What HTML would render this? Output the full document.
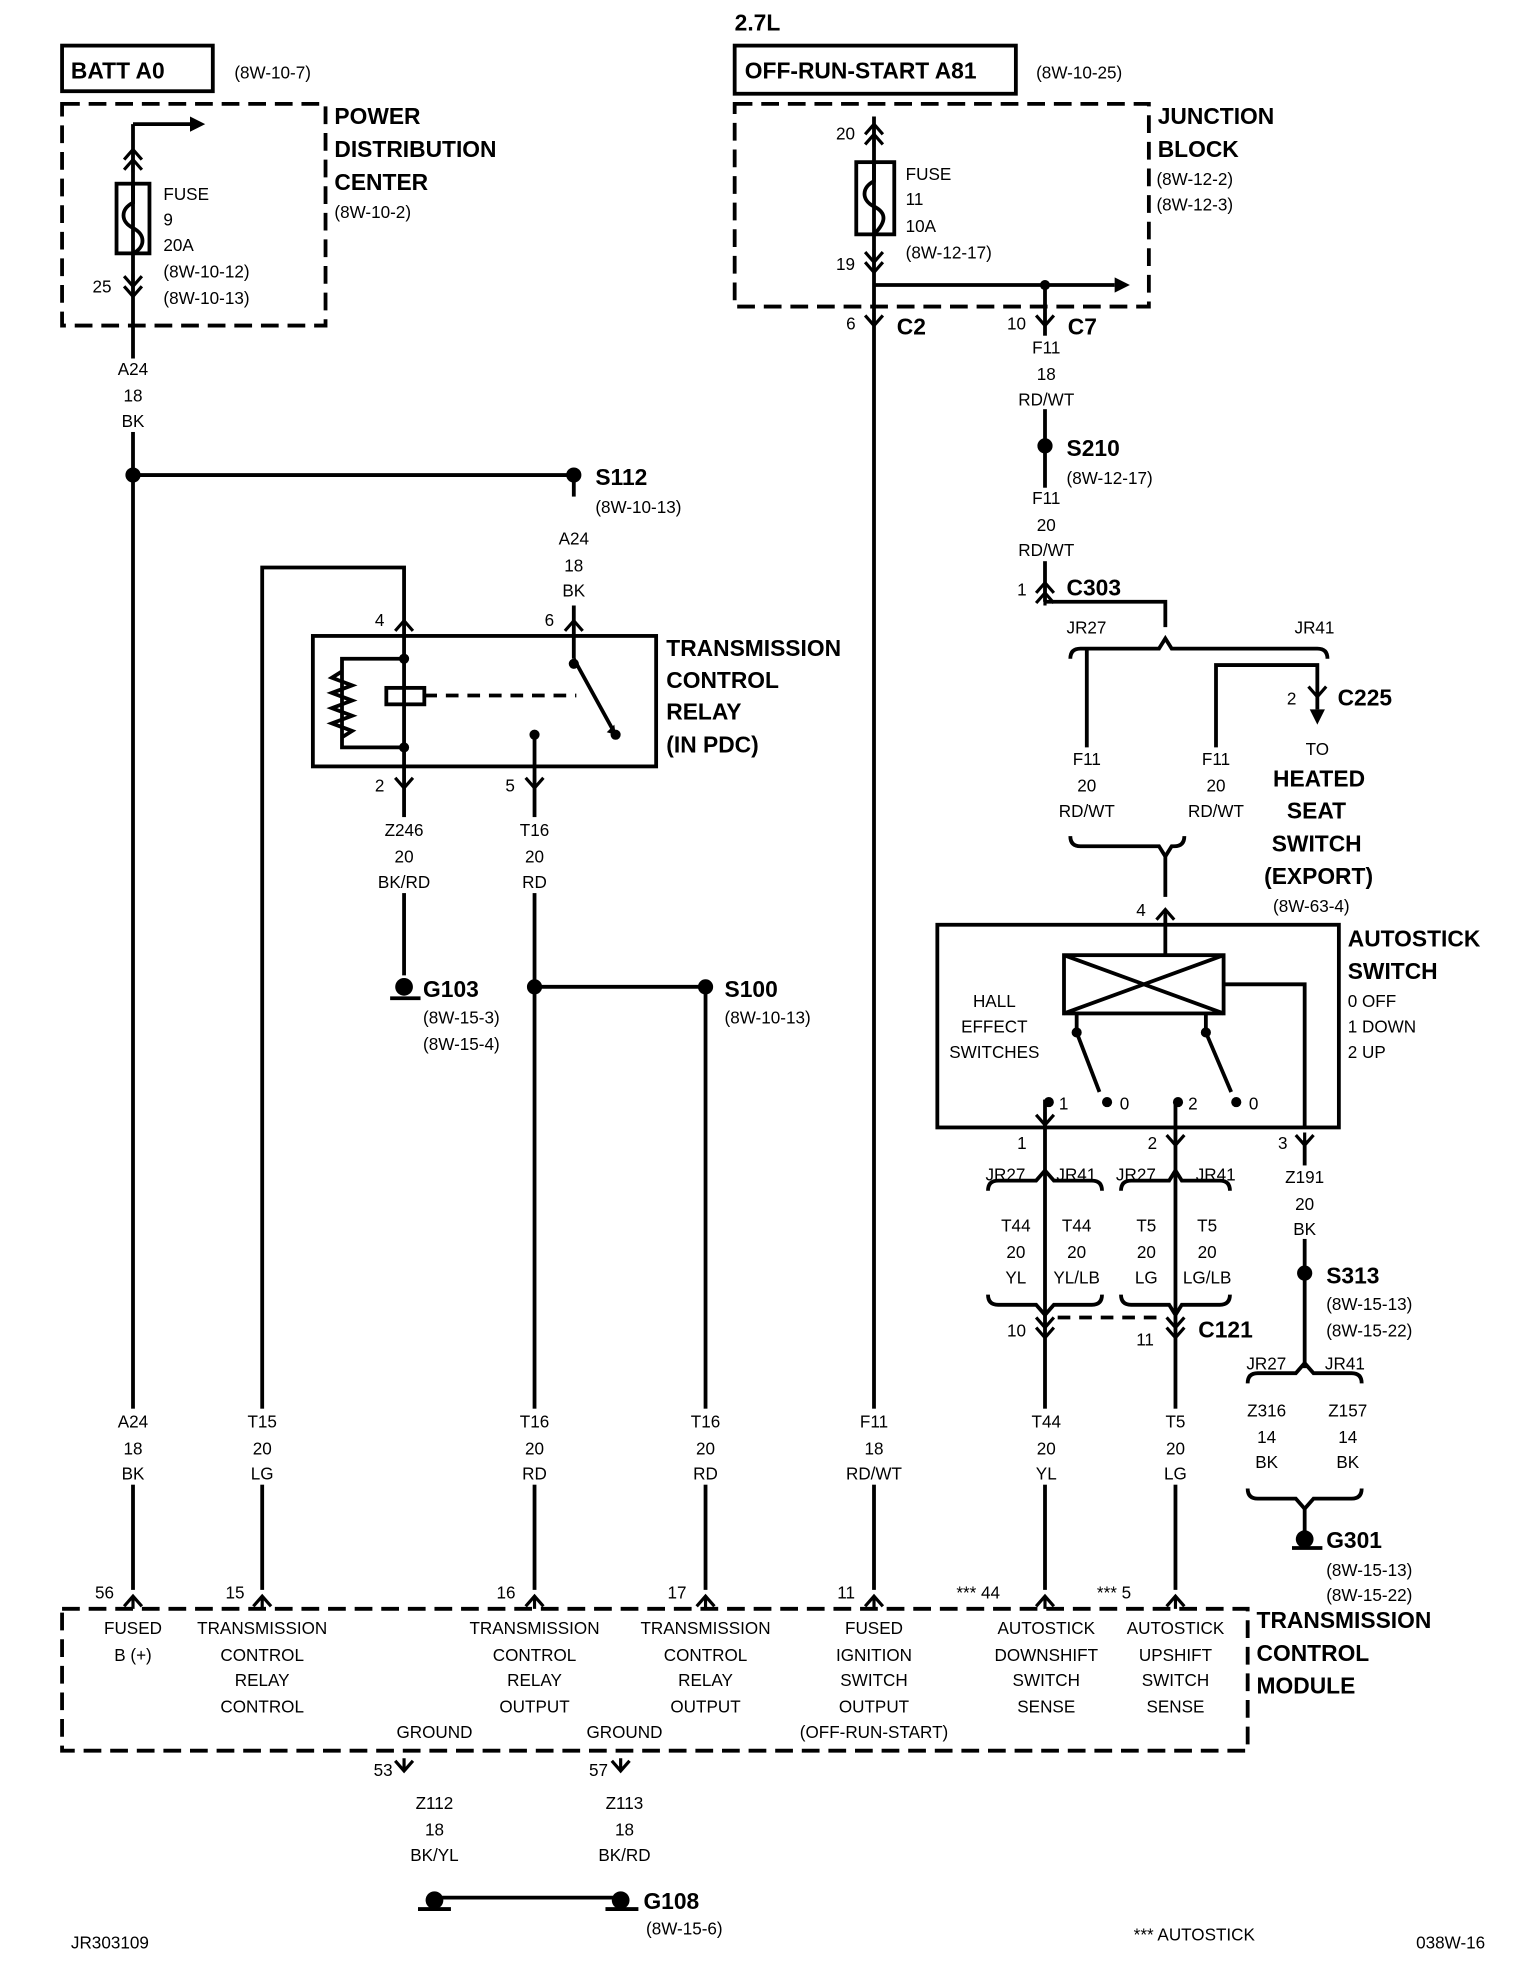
<!DOCTYPE html>
<html><head><meta charset="utf-8"><style>
html,body{margin:0;padding:0;background:#fff}
svg{display:block}
text{font-family:"Liberation Sans",Arial,sans-serif;fill:#000}
.b{font-weight:bold;font-size:18px}
.s{font-size:13.5px}
</style></head><body>
<svg width="1520" height="1980" viewBox="0 0 1200 1563" preserveAspectRatio="none" xmlns="http://www.w3.org/2000/svg">
<defs>
<g id="cd"><path d="M-7,-6 L0,2 L7,-6 M0,2 L0,-8" stroke="#000" stroke-width="2.5" fill="none"/></g>
<g id="cu"><path d="M-7,6 L0,-2 L7,6 M0,-2 L0,8" stroke="#000" stroke-width="2.5" fill="none"/></g>
</defs>
<g stroke="#000" stroke-width="3" fill="none">
<rect x="49" y="36" width="119" height="36"/>
<rect x="580" y="36" width="222" height="38"/>
<g stroke-dasharray="14,7">
<rect x="49" y="82" width="208" height="175"/>
<rect x="580" y="82" width="327" height="160"/>
<rect x="49" y="1270" width="936" height="112"/>
</g>
<line x1="105" y1="98" x2="105" y2="1255"/>
<line x1="105" y1="98" x2="150" y2="98"/>
<rect x="92" y="145" width="26" height="55"/>
<path d="M105,145 v15 c-10,5 -10,15 0,20 c10,5 10,15 0,20"/>
<line x1="690" y1="92" x2="690" y2="1255"/>
<rect x="676" y="128" width="30" height="57"/>
<path d="M690,128 v15 c-10,5 -10,15 0,20 c10,5 10,12 0,22"/>
<line x1="690" y1="225" x2="880" y2="225"/>
<line x1="825" y1="225" x2="825" y2="475"/>
<line x1="825" y1="868" x2="825" y2="1255"/>
<line x1="105" y1="375" x2="453" y2="375"/>
<line x1="453" y1="375" x2="453" y2="392"/>
<line x1="453" y1="478" x2="453" y2="520"/>
<polyline points="207,1255 207,448 319,448 319,495"/>
<rect x="247" y="502" width="271" height="103"/>
<line x1="319" y1="495" x2="319" y2="620"/>
<polyline points="319,520 270,520 270,590 319,590"/>
<path d="M270,530 l-8,5 l16,6 l-16,6 l16,6 l-16,6 l16,6 l-16,6 l16,6 l-8,5"/>
<rect x="305" y="543" width="30" height="13"/>
<line x1="335" y1="549" x2="455" y2="549" stroke-dasharray="10,7"/>
<line x1="453" y1="520" x2="486" y2="580"/>
<line x1="422" y1="580" x2="422" y2="1255"/>
<line x1="319" y1="620" x2="319" y2="770"/>
<line x1="422" y1="779" x2="557" y2="779"/>
<line x1="557" y1="779" x2="557" y2="1255"/>
<path d="M308,788 h24"/>
<polyline points="825,475 920,475 920,495"/>
<path d="M845,520 q0,-8 8,-8 h62 l5,-8 l5,8 h115 q8,0 8,8"/>
<line x1="858" y1="512" x2="858" y2="590"/>
<polyline points="960,590 960,525 1040,525 1040,560"/>
<path d="M845,660 q0,8 8,8 h62 l5,8 l5,-8 h2 q8,0 8,-8"/>
<line x1="920" y1="676" x2="920" y2="708"/>
<line x1="920" y1="722" x2="920" y2="754"/>
<rect x="740" y="730" width="317" height="160"/>
<rect x="840" y="754" width="126" height="46"/>
<line x1="840" y1="754" x2="966" y2="800"/><line x1="966" y1="754" x2="840" y2="800"/>
<polyline points="966,777 1030,777 1030,890"/>
<line x1="850" y1="800" x2="850" y2="815"/><line x1="850" y1="815" x2="868" y2="862"/>
<line x1="952" y1="800" x2="952" y2="815"/><line x1="952" y1="815" x2="972" y2="862"/>
<line x1="928" y1="868" x2="928" y2="1255"/>
<line x1="1030" y1="900" x2="1030" y2="1080"/>
<path d="M780,940 q0,-8 8,-8 h30 l7,-8 l7,8 h30 q8,0 8,8"/>
<path d="M885,940 q0,-8 8,-8 h30 l5,-8 l5,8 h30 q8,0 8,8"/>
<path d="M780,1022 q0,8 8,8 h30 l7,8 l7,-8 h30 q8,0 8,-8"/>
<path d="M885,1022 q0,8 8,8 h30 l5,8 l5,-8 h30 q8,0 8,-8"/>
<line x1="835" y1="1040" x2="920" y2="1040" stroke-dasharray="10,7"/>
<path d="M985,1092 q0,-8 8,-8 h30 l7,-8 l7,8 h30 q8,0 8,8"/>
<path d="M985,1175 q0,8 8,8 h30 l7,8 l7,-8 h30 q8,0 8,-8"/>
<line x1="1030" y1="1190" x2="1030" y2="1210"/>
<path d="M1020,1222 h24"/>
<line x1="343" y1="1498" x2="490" y2="1498"/>
<path d="M330,1507 h26 M478,1507 h26"/>
</g>
<g fill="#fff">
<rect x="85" y="283" width="40" height="58"/><rect x="85" y="1112" width="40" height="60"/>
<rect x="800" y="265" width="52" height="58"/><rect x="800" y="385" width="52" height="58"/>
<rect x="800" y="1112" width="52" height="60"/>
<rect x="293" y="645" width="52" height="60"/><rect x="400" y="645" width="44" height="60"/>
<rect x="187" y="1112" width="40" height="60"/><rect x="400" y="1112" width="44" height="60"/>
<rect x="535" y="1112" width="44" height="60"/><rect x="664" y="1112" width="52" height="60"/>
<rect x="908" y="1112" width="40" height="60"/><rect x="1010" y="920" width="40" height="58"/>
</g>
<path d="M150,92 L162,98 L150,104Z"/><path d="M880,219 L892,225 L880,231Z"/>
<path d="M1034,560 L1046,560 L1040,572Z"/><path d="M486,580 l-7,-2 l6,-6Z"/>
<g>
<circle cx="105" cy="375" r="6"/><circle cx="453" cy="375" r="6"/><circle cx="825" cy="225" r="4"/>
<circle cx="825" cy="352" r="6"/><circle cx="422" cy="779" r="6"/><circle cx="557" cy="779" r="6"/>
<circle cx="319" cy="779" r="7"/><circle cx="1030" cy="1005" r="6"/><circle cx="1030" cy="1215" r="7"/>
<circle cx="343" cy="1500" r="7"/><circle cx="490" cy="1500" r="7"/>
<circle cx="319" cy="520" r="4"/><circle cx="319" cy="590" r="4"/><circle cx="453" cy="524" r="4"/><circle cx="422" cy="580" r="4"/>
<circle cx="486" cy="580" r="4"/>
<circle cx="850" cy="815" r="4"/><circle cx="952" cy="815" r="4"/>
<circle cx="828" cy="870" r="4"/><circle cx="874" cy="870" r="4"/><circle cx="930" cy="870" r="4"/><circle cx="976" cy="870" r="4"/>
</g>
<use href="#cu" x="105" y="120"/><use href="#cu" x="105" y="128"/>
<use href="#cd" x="105" y="224"/><use href="#cd" x="105" y="232"/>
<use href="#cu" x="690" y="100"/><use href="#cu" x="690" y="108"/>
<use href="#cd" x="690" y="205"/><use href="#cd" x="690" y="213"/>
<use href="#cd" x="690" y="255"/><use href="#cd" x="825" y="255"/>
<use href="#cu" x="825" y="462"/><use href="#cu" x="825" y="470"/>
<use href="#cd" x="1040" y="548"/>
<use href="#cu" x="319" y="492"/><use href="#cu" x="453" y="492"/>
<use href="#cd" x="319" y="620"/><use href="#cd" x="422" y="620"/>
<use href="#cu" x="920" y="720"/>
<use href="#cd" x="825" y="886"/><use href="#cd" x="928" y="902"/><use href="#cd" x="1030" y="902"/>
<use href="#cd" x="825" y="1046"/><use href="#cd" x="825" y="1054"/>
<use href="#cd" x="928" y="1046"/><use href="#cd" x="928" y="1054"/>
<use href="#cu" x="105" y="1262"/><use href="#cu" x="207" y="1262"/><use href="#cu" x="422" y="1262"/>
<use href="#cu" x="557" y="1262"/><use href="#cu" x="690" y="1262"/><use href="#cu" x="825" y="1262"/><use href="#cu" x="928" y="1262"/>
<use href="#cd" x="319" y="1396"/><use href="#cd" x="490" y="1396"/>
<g class="b">
<text x="56" y="62">BATT A0</text>
<text x="580" y="24">2.7L</text>
<text x="588" y="62">OFF-RUN-START A81</text>
<text x="264" y="98">POWER</text><text x="264" y="124">DISTRIBUTION</text><text x="264" y="150">CENTER</text>
<text x="914" y="98">JUNCTION</text><text x="914" y="124">BLOCK</text>
<text x="708" y="264">C2</text><text x="843" y="264">C7</text>
<text x="842" y="360">S210</text><text x="470" y="383">S112</text><text x="842" y="470">C303</text>
<text x="1056" y="557">C225</text>
<text x="526" y="518">TRANSMISSION</text><text x="526" y="543">CONTROL</text><text x="526" y="568">RELAY</text><text x="526" y="594">(IN PDC)</text>
<text x="1005" y="621">HEATED</text><text x="1016" y="646">SEAT</text><text x="1004" y="672">SWITCH</text><text x="998" y="698">(EXPORT)</text>
<text x="1064" y="747">AUTOSTICK</text><text x="1064" y="773">SWITCH</text>
<text x="334" y="787">G103</text><text x="572" y="787">S100</text>
<text x="1047" y="1013">S313</text><text x="946" y="1056">C121</text><text x="1047" y="1222">G301</text>
<text x="992" y="1285">TRANSMISSION</text><text x="992" y="1311">CONTROL</text><text x="992" y="1337">MODULE</text>
<text x="508" y="1507">G108</text>
</g>
<g class="s">
<text x="185" y="62">(8W-10-7)</text><text x="818" y="62">(8W-10-25)</text>
<text x="129" y="158">FUSE</text><text x="129" y="178">9</text><text x="129" y="198">20A</text><text x="129" y="219">(8W-10-12)</text><text x="129" y="240">(8W-10-13)</text>
<text x="264" y="172">(8W-10-2)</text><text x="73" y="231">25</text>
<text x="715" y="142">FUSE</text><text x="715" y="162">11</text><text x="715" y="183">10A</text><text x="715" y="204">(8W-12-17)</text>
<text x="660" y="110">20</text><text x="660" y="213">19</text>
<text x="913" y="146">(8W-12-2)</text><text x="913" y="166">(8W-12-3)</text>
<text x="668" y="260">6</text><text x="795" y="260">10</text>
<g text-anchor="middle">
<text x="105" y="296">A24</text><text x="105" y="317">18</text><text x="105" y="337">BK</text>
<text x="826" y="279">F11</text><text x="826" y="300">18</text><text x="826" y="320">RD/WT</text>
<text x="826" y="398">F11</text><text x="826" y="419">20</text><text x="826" y="439">RD/WT</text>
<text x="453" y="430">A24</text><text x="453" y="451">18</text><text x="453" y="471">BK</text>
<text x="858" y="604">F11</text><text x="858" y="625">20</text><text x="858" y="645">RD/WT</text>
<text x="960" y="604">F11</text><text x="960" y="625">20</text><text x="960" y="645">RD/WT</text>
<text x="319" y="660">Z246</text><text x="319" y="681">20</text><text x="319" y="701">BK/RD</text>
<text x="422" y="660">T16</text><text x="422" y="681">20</text><text x="422" y="701">RD</text>
<text x="1040" y="596">TO</text>
<text x="785" y="795">HALL</text><text x="785" y="815">EFFECT</text><text x="785" y="835">SWITCHES</text>
<text x="1030" y="934">Z191</text><text x="1030" y="955">20</text><text x="1030" y="975">BK</text>
<text x="802" y="972">T44</text><text x="802" y="993">20</text><text x="802" y="1013">YL</text>
<text x="850" y="972">T44</text><text x="850" y="993">20</text><text x="850" y="1013">YL/LB</text>
<text x="905" y="972">T5</text><text x="905" y="993">20</text><text x="905" y="1013">LG</text>
<text x="953" y="972">T5</text><text x="953" y="993">20</text><text x="953" y="1013">LG/LB</text>
<text x="1000" y="1118">Z316</text><text x="1000" y="1139">14</text><text x="1000" y="1159">BK</text>
<text x="1064" y="1118">Z157</text><text x="1064" y="1139">14</text><text x="1064" y="1159">BK</text>
<text x="105" y="1127">A24</text><text x="105" y="1148">18</text><text x="105" y="1168">BK</text>
<text x="207" y="1127">T15</text><text x="207" y="1148">20</text><text x="207" y="1168">LG</text>
<text x="422" y="1127">T16</text><text x="422" y="1148">20</text><text x="422" y="1168">RD</text>
<text x="557" y="1127">T16</text><text x="557" y="1148">20</text><text x="557" y="1168">RD</text>
<text x="690" y="1127">F11</text><text x="690" y="1148">18</text><text x="690" y="1168">RD/WT</text>
<text x="826" y="1127">T44</text><text x="826" y="1148">20</text><text x="826" y="1168">YL</text>
<text x="928" y="1127">T5</text><text x="928" y="1148">20</text><text x="928" y="1168">LG</text>
<text x="105" y="1290">FUSED</text><text x="105" y="1311">B (+)</text>
<text x="207" y="1290">TRANSMISSION</text><text x="207" y="1311">CONTROL</text><text x="207" y="1331">RELAY</text><text x="207" y="1352">CONTROL</text>
<text x="422" y="1290">TRANSMISSION</text><text x="422" y="1311">CONTROL</text><text x="422" y="1331">RELAY</text><text x="422" y="1352">OUTPUT</text>
<text x="557" y="1290">TRANSMISSION</text><text x="557" y="1311">CONTROL</text><text x="557" y="1331">RELAY</text><text x="557" y="1352">OUTPUT</text>
<text x="690" y="1290">FUSED</text><text x="690" y="1311">IGNITION</text><text x="690" y="1331">SWITCH</text><text x="690" y="1352">OUTPUT</text><text x="690" y="1372">(OFF-RUN-START)</text>
<text x="826" y="1290">AUTOSTICK</text><text x="826" y="1311">DOWNSHIFT</text><text x="826" y="1331">SWITCH</text><text x="826" y="1352">SENSE</text>
<text x="928" y="1290">AUTOSTICK</text><text x="928" y="1311">UPSHIFT</text><text x="928" y="1331">SWITCH</text><text x="928" y="1352">SENSE</text>
<text x="343" y="1372">GROUND</text><text x="493" y="1372">GROUND</text>
<text x="343" y="1428">Z112</text><text x="343" y="1449">18</text><text x="343" y="1469">BK/YL</text>
<text x="493" y="1428">Z113</text><text x="493" y="1449">18</text><text x="493" y="1469">BK/RD</text>
</g>
<text x="842" y="382">(8W-12-17)</text><text x="470" y="405">(8W-10-13)</text>
<text x="803" y="470">1</text><text x="842" y="500">JR27</text><text x="1022" y="500">JR41</text>
<text x="1016" y="556">2</text>
<text x="296" y="494">4</text><text x="430" y="494">6</text>
<text x="296" y="625">2</text><text x="399" y="625">5</text>
<text x="1005" y="720">(8W-63-4)</text><text x="897" y="723">4</text>
<text x="1064" y="795">0 OFF</text><text x="1064" y="815">1 DOWN</text><text x="1064" y="835">2 UP</text>
<text x="836" y="876">1</text><text x="884" y="876">0</text><text x="938" y="876">2</text><text x="986" y="876">0</text>
<text x="803" y="907">1</text><text x="906" y="907">2</text><text x="1009" y="907">3</text>
<text x="778" y="932">JR27</text><text x="834" y="932">JR41</text><text x="881" y="932">JR27</text><text x="944" y="932">JR41</text>
<text x="334" y="808">(8W-15-3)</text><text x="334" y="829">(8W-15-4)</text><text x="572" y="808">(8W-10-13)</text>
<text x="1047" y="1034">(8W-15-13)</text><text x="1047" y="1055">(8W-15-22)</text>
<text x="795" y="1055">10</text><text x="897" y="1062">11</text>
<text x="984" y="1081">JR27</text><text x="1046" y="1081">JR41</text>
<text x="1047" y="1244">(8W-15-13)</text><text x="1047" y="1264">(8W-15-22)</text>
<text x="75" y="1262">56</text><text x="178" y="1262">15</text><text x="392" y="1262">16</text><text x="527" y="1262">17</text><text x="661" y="1262">11</text>
<text x="755" y="1262">*** 44</text><text x="866" y="1262">*** 5</text>
<text x="310" y="1402" text-anchor="end">53</text><text x="480" y="1402" text-anchor="end">57</text>
<text x="510" y="1527">(8W-15-6)</text>
<text x="56" y="1538">JR303109</text><text x="895" y="1532">*** AUTOSTICK</text><text x="1118" y="1538">038W-16</text>
</g>
</svg>
</body></html>
